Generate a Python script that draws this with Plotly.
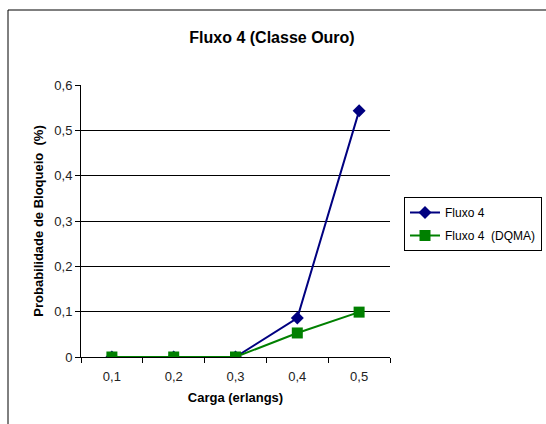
import plotly.graph_objects as go

# Load values (erlangs) and blocking probabilities (%)
cargas = ["0,1", "0,2", "0,3", "0,4", "0,5"]
fluxo4 = [0.0, 0.0, 0.0, 0.086, 0.543]
fluxo4_dqma = [0.0, 0.0, 0.0, 0.053, 0.099]

W, H = 546, 424
L, R, T, B = 81, 156, 85, 67
pw, ph = W - L - R, H - T - B

def px(xp):
    return (xp - L) / pw

def py(yp):
    return (H - B - yp) / ph

font = "Liberation Sans, Arial, sans-serif"

fig = go.Figure()
fig.add_trace(go.Scatter(
    x=cargas, y=fluxo4, name="Fluxo 4", mode="lines+markers",
    legendgroup="a",
    line=dict(color="#000080", width=2),
    marker=dict(symbol="diamond", size=10, color="#000080"),
))
fig.add_trace(go.Scatter(
    x=cargas, y=fluxo4_dqma, name="Fluxo 4  (DQMA)", mode="lines+markers",
    legendgroup="b",
    line=dict(color="#008000", width=2),
    marker=dict(symbol="square", size=11, color="#008000"),
))

fig.update_layout(
    width=W, height=H,
    margin=dict(l=L, r=R, t=T, b=B, autoexpand=False),
    paper_bgcolor="white", plot_bgcolor="white",
    separators=",.",
    font=dict(family=font, size=13, color="#222"),
    title=dict(text="<b>Fluxo 4 (Classe Ouro)</b>", x=272 / W, xanchor="center",
               y=1 - 37 / H, yanchor="middle",
               font=dict(family=font, size=16, color="#000")),
    xaxis=dict(
        type="category", tickson="boundaries", ticks="outside", ticklen=5,
        tickcolor="black", showline=True, linecolor="black", linewidth=1,
        showgrid=False, range=[-0.5, 4.5], ticklabelstandoff=7,
        tickfont=dict(size=13, color="#222"),
        title=dict(text="<b>Carga (erlangs)</b>", font=dict(size=13, color="#000"), standoff=10),
    ),
    yaxis=dict(
        range=[0, 0.6], dtick=0.1, tick0=0, ticks="outside", ticklen=5,
        tickcolor="black", showline=True, linecolor="black", linewidth=1,
        showgrid=True, gridcolor="black", gridwidth=1, zeroline=False,
        tickfont=dict(size=13, color="#222"),
        title=dict(text="<b>Probabilidade de Bloqueio  (%)</b>", font=dict(size=13, color="#000"), standoff=7),
    ),
    legend=dict(
        x=px(404), y=py(197), xanchor="left", yanchor="top",
        bordercolor="black", borderwidth=1, bgcolor="white",
        font=dict(size=12, color="#000"), tracegroupgap=4,
        traceorder="grouped",
    ),
    showlegend=True,
)

# Chart-area frame
fig.add_shape(type="rect", xref="paper", yref="paper",
              x0=px(8), x1=px(W + 20), y0=py(H + 20), y1=py(10),
              line=dict(color="black", width=1), layer="below")

fig.write_html("out.html")
